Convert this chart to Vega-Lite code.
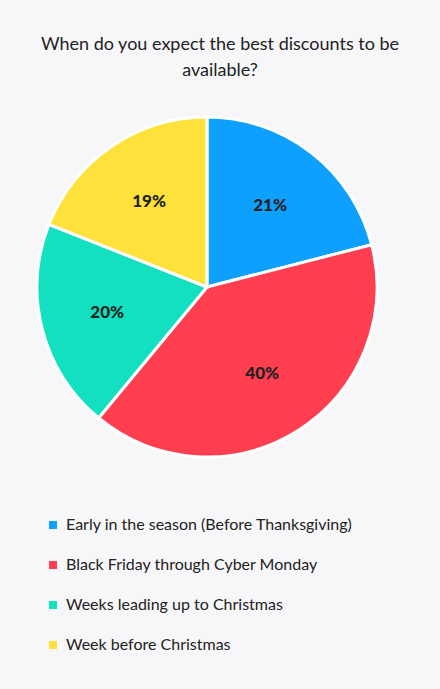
{
  "$schema": "https://vega.github.io/schema/vega-lite/v6.json",
  "width": 340,
  "height": 340,
  "autosize": {"type": "none"},
  "padding": {"left": 37, "top": 117, "right": 63, "bottom": 232},
  "background": "#f7f7f9",
  "title": {
    "text": ["When do you expect the best discounts to be", "available?"],
    "font": "Lato",
    "fontSize": 18,
    "fontWeight": "normal",
    "color": "#222222",
    "anchor": "middle",
    "frame": "group",
    "dx": 13,
    "lineHeight": 26,
    "offset": 31
  },
  "data": {
    "values": [
      {"label": "Early in the season (Before Thanksgiving)", "value": 21, "idx": 1, "pct": "21%"},
      {"label": "Black Friday through Cyber Monday", "value": 40, "idx": 2, "pct": "40%"},
      {"label": "Weeks leading up to Christmas", "value": 20, "idx": 3, "pct": "20%"},
      {"label": "Week before Christmas", "value": 19, "idx": 4, "pct": "19%"}
    ]
  },
  "encoding": {
    "theta": {"field": "value", "type": "quantitative", "stack": true},
    "order": {"field": "idx", "type": "quantitative"}
  },
  "layer": [
    {
      "mark": {"type": "arc", "stroke": "#ffffff", "strokeWidth": 3, "outerRadius": 170},
      "encoding": {
        "color": {
          "field": "label",
          "type": "nominal",
          "sort": ["Early in the season (Before Thanksgiving)", "Black Friday through Cyber Monday", "Weeks leading up to Christmas", "Week before Christmas"],
          "scale": {
            "domain": ["Early in the season (Before Thanksgiving)", "Black Friday through Cyber Monday", "Weeks leading up to Christmas", "Week before Christmas"],
            "range": ["#0ea0ff", "#ff3f4f", "#12e0c0", "#ffe13c"]
          },
          "legend": {
            "title": null,
            "orient": "none",
            "legendX": 8,
            "legendY": 400,
            "symbolType": "square",
            "symbolSize": 64,
            "symbolStrokeWidth": 0,
            "labelFont": "Lato",
            "labelFontSize": 16,
            "labelColor": "#222222",
            "labelOffset": 5,
            "rowPadding": 24,
            "labelLimit": 400,
            "padding": 0
          }
        }
      }
    },
    {
      "mark": {"type": "text", "radius": 103, "font": "Lato", "fontSize": 17, "fontWeight": 900, "color": "#222222"},
      "encoding": {
        "text": {"field": "pct", "type": "nominal"}
      }
    }
  ],
  "config": {"view": {"stroke": null}}
}
